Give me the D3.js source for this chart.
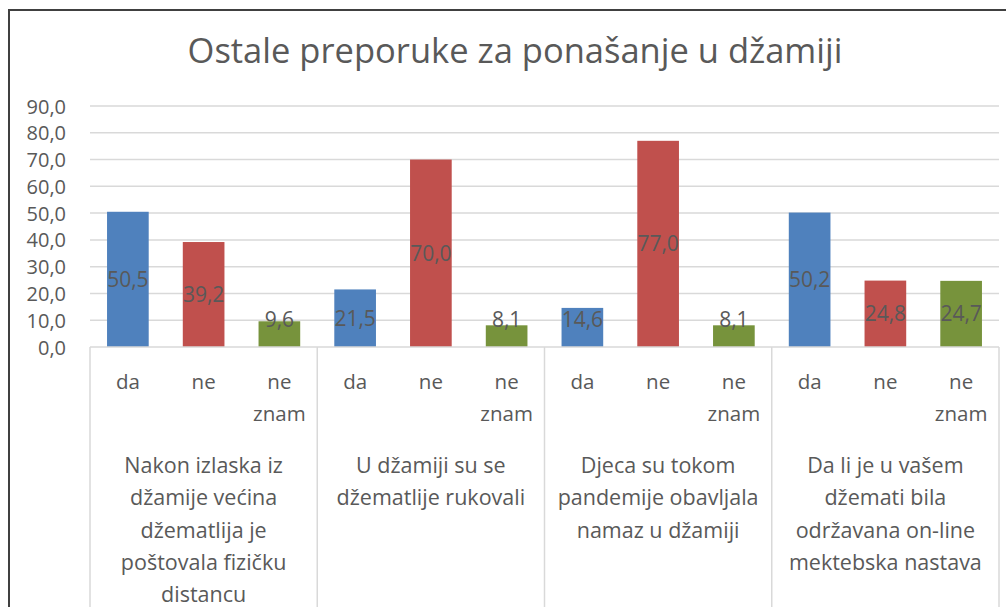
<!DOCTYPE html>
<html>
<head>
<meta charset="utf-8">
<script src="https://cdn.jsdelivr.net/npm/d3@7"></script>
<style>
  html, body { margin: 0; padding: 0; background: #fff; }
  svg { display: block; }
  text { font-family: "Open Sans", Lato, sans-serif; fill: #595959; }
</style>
</head>
<body>
<svg id="chart" width="1006" height="607"></svg>
<script>
const title = "Ostale preporuke za ponašanje u džamiji";
const groups = [
  ["Nakon izlaska iz", "džamije većina", "džematlija je", "poštovala fizičku", "distancu"],
  ["U džamiji su se", "džematlije rukovali"],
  ["Djeca su tokom", "pandemije obavljala", "namaz u džamiji"],
  ["Da li je u vašem", "džemati bila", "održavana on-line", "mektebska nastava"]
];
const answers = ["da", "ne", "ne znam"];
const daValues = [50.5, 21.5, 14.6, 50.2];
const neValues = [39.2, 70.0, 77.0, 24.8];
const neZnamValues = [9.6, 8.1, 8.1, 24.7];
const seriesValues = [daValues, neValues, neZnamValues];
const colors = ["#4f81bd", "#c0504d", "#77933c"];
const yTicks = [0, 10, 20, 30, 40, 50, 60, 70, 80, 90];

(function () {
const svg = d3.select("#chart");
const W = 1006, H = 607;
const pLeft = 90, pRight = 999, pTop = 106, pBottom = 347;
const FS = 20;

// frame
svg.append("path")
  .attr("d", `M9,${H} L9,10 L${W},10`)
  .attr("fill", "none").attr("stroke", "#404040").attr("stroke-width", 2);

svg.append("text")
  .attr("x", 515).attr("y", 63)
  .attr("text-anchor", "middle")
  .attr("font-size", 34.5)
  .text(title);

const gi = d3.range(groups.length);
const x0 = d3.scaleBand().domain(gi).range([pLeft, pRight]).padding(0);
const x1 = d3.scaleBand().domain(answers).range([0, x0.bandwidth()])
  .paddingInner(0.45).paddingOuter(0.225);
const y = d3.scaleLinear().domain([0, 90]).range([pBottom, pTop]);
const fmt = v => d3.format(".1f")(v).replace(".", ",");

// gridlines
svg.append("g").selectAll("line").data(yTicks.filter(t => t > 0)).join("line")
  .attr("x1", pLeft).attr("x2", pRight)
  .attr("y1", d => y(d)).attr("y2", d => y(d))
  .attr("stroke", "#d9d9d9").attr("stroke-width", 1.5);

// y axis labels
const yAxis = d3.axisLeft(y).tickValues(yTicks).tickFormat(fmt).tickSize(0).tickPadding(0);
const ya = svg.append("g").attr("transform", `translate(66,0)`).call(yAxis);
ya.select(".domain").remove();
ya.selectAll("text").attr("font-size", FS).attr("fill", "#595959")
  .style("font-family", "'Open Sans', Lato, sans-serif").attr("dy", "0.35em");

// bars
const data = [];
gi.forEach(g => answers.forEach((a, i) => data.push({ g, a, i, v: seriesValues[i][g] })));
svg.append("g").selectAll("rect").data(data).join("rect")
  .attr("x", d => x0(d.g) + x1(d.a))
  .attr("width", x1.bandwidth())
  .attr("y", d => y(d.v))
  .attr("height", d => y(0) - y(d.v))
  .attr("fill", d => colors[d.i]);

// value labels
svg.append("g").selectAll("text").data(data).join("text")
  .attr("x", d => x0(d.g) + x1(d.a) + x1.bandwidth() / 2)
  .attr("y", d => Math.min((y(d.v) + y(0)) / 2, y(0) - 27))
  .attr("dy", "0.35em")
  .attr("text-anchor", "middle")
  .attr("font-size", 21)
  .text(d => fmt(d.v));

// category axis
const axisG = svg.append("g").attr("stroke", "#d9d9d9").attr("stroke-width", 1.5);
axisG.append("line").attr("x1", pLeft).attr("x2", pRight).attr("y1", pBottom).attr("y2", pBottom);
[...gi.map(g => x0(g)), pRight].forEach(xv => {
  axisG.append("line").attr("x1", xv).attr("x2", xv).attr("y1", pBottom).attr("y2", H);
});

// answer labels
gi.forEach(g => {
  answers.forEach(a => {
    const cx = x0(g) + x1(a) + x1.bandwidth() / 2;
    const t = svg.append("text")
      .attr("text-anchor", "middle")
      .attr("font-size", 20.5)
      .attr("x", cx)
      .attr("y", 389);
    a.split(" ").forEach((w, k) => {
      t.append("tspan").attr("x", cx)
        .attr("dy", k === 0 ? 0 : 32).text(w);
    });
  });
  const gt = svg.append("text")
    .attr("text-anchor", "middle")
    .attr("font-size", 21.5)
    .attr("y", 473);
  groups[g].forEach((line, k) => {
    gt.append("tspan").attr("x", x0(g) + x0.bandwidth() / 2)
      .attr("dy", k === 0 ? 0 : 32.3).text(line);
  });
});
})();
</script>
</body>
</html>
